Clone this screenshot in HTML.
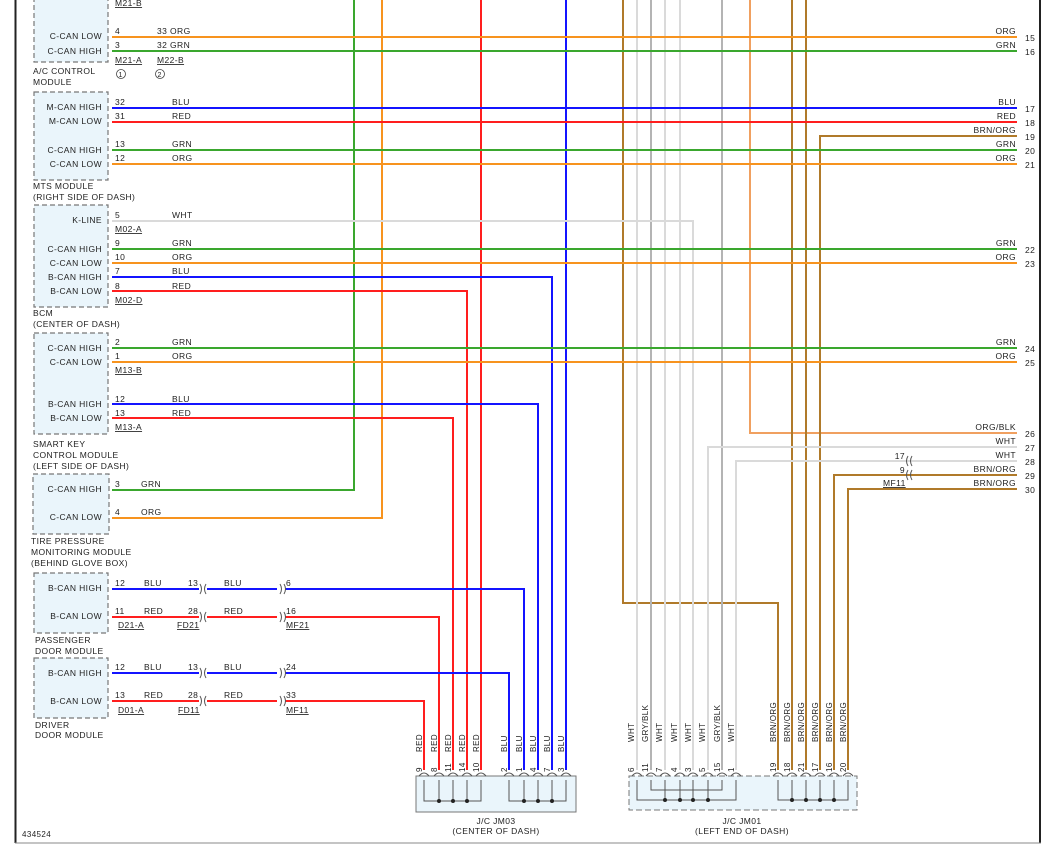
<!DOCTYPE html>
<html><head><meta charset="utf-8"><style>
html,body{margin:0;padding:0;background:#fff;}
svg{display:block;font-family:"Liberation Sans",sans-serif;font-size:8.5px;fill:#222;letter-spacing:0.4px}
.b{fill:#eaf5fb;stroke:#777;stroke-width:1.2;stroke-dasharray:5,3}
.w{fill:none;stroke-width:2}
.o{stroke:#f7931e}.g{stroke:#3aa72e}.u{stroke:#1414ff}.r{stroke:#ff1e1e}.n{stroke:#b07a2a}.t{stroke:#dadada}.y{stroke:#b4b4b4}
.m{text-anchor:end}
.c{fill:none;stroke:#555;stroke-width:1}
</style></head><body>
<svg width="1046" height="851" viewBox="0 0 1046 851">
<line x1="15.5" y1="0" x2="15.5" y2="843" stroke="#222" stroke-width="2"/>
<line x1="1040" y1="0" x2="1040" y2="843" stroke="#222" stroke-width="2"/>
<line x1="15" y1="843" x2="1041" y2="843" stroke="#888" stroke-width="1"/>

<!-- modules -->
<rect class="b" x="34" y="-10" width="74" height="72"/>
<rect class="b" x="34" y="92" width="74" height="88"/>
<rect class="b" x="34" y="205" width="74" height="102"/>
<rect class="b" x="34" y="333" width="74" height="101"/>
<rect class="b" x="33" y="474" width="76" height="60"/>
<rect class="b" x="34" y="573" width="74" height="60"/>
<rect class="b" x="34" y="658" width="74" height="60"/>

<g class="m">
<text x="102" y="39">C-CAN LOW</text><text x="102" y="54">C-CAN HIGH</text>
<text x="102" y="110">M-CAN HIGH</text><text x="102" y="124">M-CAN LOW</text>
<text x="102" y="153">C-CAN HIGH</text><text x="102" y="167">C-CAN LOW</text>
<text x="102" y="223">K-LINE</text>
<text x="102" y="252">C-CAN HIGH</text><text x="102" y="266">C-CAN LOW</text>
<text x="102" y="280">B-CAN HIGH</text><text x="102" y="294">B-CAN LOW</text>
<text x="102" y="351">C-CAN HIGH</text><text x="102" y="365">C-CAN LOW</text>
<text x="102" y="407">B-CAN HIGH</text><text x="102" y="421">B-CAN LOW</text>
<text x="102" y="492">C-CAN HIGH</text><text x="102" y="520">C-CAN LOW</text>
<text x="102" y="591">B-CAN HIGH</text><text x="102" y="619">B-CAN LOW</text>
<text x="102" y="676">B-CAN HIGH</text><text x="102" y="704">B-CAN LOW</text>
</g>
<text x="33" y="74">A/C CONTROL</text><text x="33" y="85">MODULE</text>
<text x="33" y="189">MTS MODULE</text><text x="33" y="200">(RIGHT SIDE OF DASH)</text>
<text x="33" y="316">BCM</text><text x="33" y="327">(CENTER OF DASH)</text>
<text x="33" y="447">SMART KEY</text><text x="33" y="458">CONTROL MODULE</text><text x="33" y="469">(LEFT SIDE OF DASH)</text>
<text x="31" y="544">TIRE PRESSURE</text><text x="31" y="555">MONITORING MODULE</text><text x="31" y="566">(BEHIND GLOVE BOX)</text>
<text x="35" y="643">PASSENGER</text><text x="35" y="654">DOOR MODULE</text>
<text x="35" y="728">DRIVER</text><text x="35" y="738">DOOR MODULE</text>
<text x="22" y="837" style="font-size:8px">434524</text>

<!-- verticals -->
<polyline class="w g" points="112,490 354,490 354,0"/>
<polyline class="w o" points="112,518 382,518 382,0"/>
<polyline class="w r" points="481,0 481,770"/>
<polyline class="w u" points="566,0 566,770"/>
<polyline class="w n" points="623,0 623,603 778,603 778,770"/>
<polyline class="w t" points="637,0 637,770"/>
<polyline class="w y" points="651,0 651,770"/>
<polyline class="w t" points="665,0 665,770"/>
<polyline class="w t" points="680,0 680,770"/>
<polyline class="w y" points="722,0 722,770"/>
<polyline class="w o" points="750,0 750,433 1017,433" style="stroke:#f0a060"/>
<polyline class="w n" points="792,0 792,770"/>
<polyline class="w n" points="806,0 806,770"/>

<!-- horizontals -->
<line class="w o" x1="112" y1="37" x2="1017" y2="37"/>
<line class="w g" x1="112" y1="51" x2="1017" y2="51"/>
<line class="w u" x1="112" y1="108" x2="1017" y2="108"/>
<line class="w r" x1="112" y1="122" x2="1017" y2="122"/>
<polyline class="w n" points="820,770 820,136 1017,136"/>
<line class="w g" x1="112" y1="150" x2="1017" y2="150"/>
<line class="w o" x1="112" y1="164" x2="1017" y2="164"/>
<polyline class="w t" points="112,221 693,221 693,770"/>
<line class="w g" x1="112" y1="249" x2="1017" y2="249"/>
<line class="w o" x1="112" y1="263" x2="1017" y2="263"/>
<polyline class="w u" points="112,277 552,277 552,770"/>
<polyline class="w r" points="112,291 467,291 467,770"/>
<line class="w g" x1="112" y1="348" x2="1017" y2="348"/>
<line class="w o" x1="112" y1="362" x2="1017" y2="362"/>
<polyline class="w u" points="112,404 538,404 538,770"/>
<polyline class="w r" points="112,418 453,418 453,770"/>
<polyline class="w t" points="708,770 708,447 1017,447"/>
<polyline class="w t" points="736,770 736,461 1017,461"/>
<polyline class="w n" points="834,770 834,475 1017,475"/>
<polyline class="w n" points="848,770 848,489 1017,489"/>
<polyline class="w u" points="112,589 524,589 524,770"/>
<polyline class="w r" points="112,617 439,617 439,770"/>
<polyline class="w u" points="112,673 509,673 509,770"/>
<polyline class="w r" points="112,701 424,701 424,770"/>

<!-- inline connector gaps -->
<g fill="#fff"><rect x="199" y="580" width="8" height="44"/><rect x="277" y="580" width="8" height="44"/><rect x="199" y="664" width="8" height="44"/><rect x="277" y="664" width="8" height="44"/></g>
<g class="c">
<path d="M200,584 q3,5 0,10 M206,584 q-3,5 0,10 M280,584 q3,5 0,10 M284,584 q3,5 0,10"/>
<path d="M200,612 q3,5 0,10 M206,612 q-3,5 0,10 M280,612 q3,5 0,10 M284,612 q3,5 0,10"/>
<path d="M200,668 q3,5 0,10 M206,668 q-3,5 0,10 M280,668 q3,5 0,10 M284,668 q3,5 0,10"/>
<path d="M200,696 q3,5 0,10 M206,696 q-3,5 0,10 M280,696 q3,5 0,10 M284,696 q3,5 0,10"/>
<path d="M908,456 q-3,5 0,10 M912,456 q-3,5 0,10 M908,470 q-3,5 0,10 M912,470 q-3,5 0,10"/>
</g>

<!-- wire labels -->
<text x="115" y="34">4</text><text x="157" y="34">33  ORG</text>
<text x="115" y="48">3</text><text x="157" y="48">32  GRN</text>
<text x="115" y="6" text-decoration="underline">M21-B</text>
<text x="115" y="63" text-decoration="underline">M21-A</text><text x="157" y="63" text-decoration="underline">M22-B</text>
<circle cx="121" cy="74" r="4.5" fill="none" stroke="#444" stroke-width="0.8"/><text x="118.5" y="77" style="font-size:7px">1</text>
<circle cx="160" cy="74" r="4.5" fill="none" stroke="#444" stroke-width="0.8"/><text x="157.5" y="77" style="font-size:7px">2</text>
<text x="115" y="105">32</text><text x="172" y="105">BLU</text>
<text x="115" y="119">31</text><text x="172" y="119">RED</text>
<text x="115" y="147">13</text><text x="172" y="147">GRN</text>
<text x="115" y="161">12</text><text x="172" y="161">ORG</text>
<text x="115" y="218">5</text><text x="172" y="218">WHT</text>
<text x="115" y="232" text-decoration="underline">M02-A</text>
<text x="115" y="246">9</text><text x="172" y="246">GRN</text>
<text x="115" y="260">10</text><text x="172" y="260">ORG</text>
<text x="115" y="274">7</text><text x="172" y="274">BLU</text>
<text x="115" y="289">8</text><text x="172" y="289">RED</text>
<text x="115" y="303" text-decoration="underline">M02-D</text>
<text x="115" y="345">2</text><text x="172" y="345">GRN</text>
<text x="115" y="359">1</text><text x="172" y="359">ORG</text>
<text x="115" y="373" text-decoration="underline">M13-B</text>
<text x="115" y="402">12</text><text x="172" y="402">BLU</text>
<text x="115" y="416">13</text><text x="172" y="416">RED</text>
<text x="115" y="430" text-decoration="underline">M13-A</text>
<text x="115" y="487">3</text><text x="141" y="487">GRN</text>
<text x="115" y="515">4</text><text x="141" y="515">ORG</text>
<text x="115" y="586">12</text><text x="144" y="586">BLU</text><text x="188" y="586">13</text><text x="224" y="586">BLU</text><text x="286" y="586">6</text>
<text x="115" y="614">11</text><text x="144" y="614">RED</text><text x="188" y="614">28</text><text x="224" y="614">RED</text><text x="286" y="614">16</text>
<text x="118" y="628" text-decoration="underline">D21-A</text><text x="177" y="628" text-decoration="underline">FD21</text><text x="286" y="628" text-decoration="underline">MF21</text>
<text x="115" y="670">12</text><text x="144" y="670">BLU</text><text x="188" y="670">13</text><text x="224" y="670">BLU</text><text x="286" y="670">24</text>
<text x="115" y="698">13</text><text x="144" y="698">RED</text><text x="188" y="698">28</text><text x="224" y="698">RED</text><text x="286" y="698">33</text>
<text x="118" y="713" text-decoration="underline">D01-A</text><text x="178" y="713" text-decoration="underline">FD11</text><text x="286" y="713" text-decoration="underline">MF11</text>

<g class="m">
<text x="1016" y="34">ORG</text><text x="1016" y="48">GRN</text>
<text x="1016" y="105">BLU</text><text x="1016" y="119">RED</text><text x="1016" y="133">BRN/ORG</text><text x="1016" y="147">GRN</text><text x="1016" y="161">ORG</text>
<text x="1016" y="246">GRN</text><text x="1016" y="260">ORG</text>
<text x="1016" y="345">GRN</text><text x="1016" y="359">ORG</text>
<text x="1016" y="430">ORG/BLK</text><text x="1016" y="444">WHT</text><text x="1016" y="458">WHT</text><text x="1016" y="472">BRN/ORG</text><text x="1016" y="486">BRN/ORG</text>
<text x="905" y="459">17</text><text x="905" y="473">9</text>
</g>
<text x="883" y="486" text-decoration="underline">MF11</text>
<g>
<text x="1025" y="41">15</text><text x="1025" y="55">16</text><text x="1025" y="112">17</text><text x="1025" y="126">18</text><text x="1025" y="140">19</text><text x="1025" y="154">20</text><text x="1025" y="168">21</text>
<text x="1025" y="253">22</text><text x="1025" y="267">23</text><text x="1025" y="352">24</text><text x="1025" y="366">25</text>
<text x="1025" y="437">26</text><text x="1025" y="451">27</text><text x="1025" y="465">28</text><text x="1025" y="479">29</text><text x="1025" y="493">30</text>
</g>

<!-- JM03 -->
<rect x="416" y="776" width="160" height="36" fill="#eaf5fb" stroke="#777" stroke-width="1"/>
<g fill="none" stroke="#555" stroke-width="1">
<polyline points="424,780 424,801 481,801 481,780"/><line x1="439" y1="780" x2="439" y2="801"/><line x1="453" y1="780" x2="453" y2="801"/><line x1="467" y1="780" x2="467" y2="801"/>
<polyline points="509,780 509,801 566,801 566,780"/><line x1="524" y1="780" x2="524" y2="801"/><line x1="538" y1="780" x2="538" y2="801"/><line x1="552" y1="780" x2="552" y2="801"/>
<path d="M419,776 q5,-6 10,0 M434,776 q5,-6 10,0 M448,776 q5,-6 10,0 M462,776 q5,-6 10,0 M476,776 q5,-6 10,0 M504,776 q5,-6 10,0 M519,776 q5,-6 10,0 M533,776 q5,-6 10,0 M547,776 q5,-6 10,0 M561,776 q5,-6 10,0"/>
</g>
<g fill="#222"><circle cx="439" cy="801" r="2"/><circle cx="453" cy="801" r="2"/><circle cx="467" cy="801" r="2"/><circle cx="524" cy="801" r="2"/><circle cx="538" cy="801" r="2"/><circle cx="552" cy="801" r="2"/></g>
<text x="496" y="824" text-anchor="middle">J/C JM03</text><text x="496" y="834" text-anchor="middle">(CENTER OF DASH)</text>

<!-- JM01 -->
<rect x="629" y="776" width="228" height="34" fill="#eaf5fb" stroke="#777" stroke-width="1" stroke-dasharray="6,3"/>
<g fill="none" stroke="#555" stroke-width="1">
<polyline points="637,780 637,800 736,800 736,780"/><polyline points="651,780 651,790 722,790 722,780"/>
<line x1="665" y1="780" x2="665" y2="800"/><line x1="680" y1="780" x2="680" y2="800"/><line x1="693" y1="780" x2="693" y2="800"/><line x1="708" y1="780" x2="708" y2="800"/>
<polyline points="778,780 778,800 848,800 848,780"/><line x1="792" y1="780" x2="792" y2="800"/><line x1="806" y1="780" x2="806" y2="800"/><line x1="820" y1="780" x2="820" y2="800"/><line x1="834" y1="780" x2="834" y2="800"/>
<path d="M632,776 q5,-6 10,0 M646,776 q5,-6 10,0 M660,776 q5,-6 10,0 M675,776 q5,-6 10,0 M688,776 q5,-6 10,0 M703,776 q5,-6 10,0 M717,776 q5,-6 10,0 M731,776 q5,-6 10,0 M773,776 q5,-6 10,0 M787,776 q5,-6 10,0 M801,776 q5,-6 10,0 M815,776 q5,-6 10,0 M829,776 q5,-6 10,0 M843,776 q5,-6 10,0"/>
</g>
<g fill="#222"><circle cx="665" cy="800" r="2"/><circle cx="680" cy="800" r="2"/><circle cx="693" cy="800" r="2"/><circle cx="708" cy="800" r="2"/><circle cx="792" cy="800" r="2"/><circle cx="806" cy="800" r="2"/><circle cx="820" cy="800" r="2"/><circle cx="834" cy="800" r="2"/></g>
<text x="742" y="824" text-anchor="middle">J/C JM01</text><text x="742" y="834" text-anchor="middle">(LEFT END OF DASH)</text>

<!-- vertical labels -->
<g style="font-size:8px">
<text transform="translate(422,752) rotate(-90)">RED</text><text transform="translate(437,752) rotate(-90)">RED</text><text transform="translate(451,752) rotate(-90)">RED</text><text transform="translate(465,752) rotate(-90)">RED</text><text transform="translate(479,752) rotate(-90)">RED</text>
<text transform="translate(507,752) rotate(-90)">BLU</text><text transform="translate(522,752) rotate(-90)">BLU</text><text transform="translate(536,752) rotate(-90)">BLU</text><text transform="translate(550,752) rotate(-90)">BLU</text><text transform="translate(564,752) rotate(-90)">BLU</text>
<text transform="translate(422,772) rotate(-90)">9</text><text transform="translate(437,772) rotate(-90)">8</text><text transform="translate(451,772) rotate(-90)">11</text><text transform="translate(465,772) rotate(-90)">14</text><text transform="translate(479,772) rotate(-90)">10</text>
<text transform="translate(507,772) rotate(-90)">2</text><text transform="translate(522,772) rotate(-90)">1</text><text transform="translate(536,772) rotate(-90)">4</text><text transform="translate(550,772) rotate(-90)">7</text><text transform="translate(564,772) rotate(-90)">3</text>
<text transform="translate(634,742) rotate(-90)">WHT</text><text transform="translate(648,742) rotate(-90)">GRY/BLK</text><text transform="translate(662,742) rotate(-90)">WHT</text><text transform="translate(677,742) rotate(-90)">WHT</text><text transform="translate(691,742) rotate(-90)">WHT</text><text transform="translate(705,742) rotate(-90)">WHT</text><text transform="translate(720,742) rotate(-90)">GRY/BLK</text><text transform="translate(734,742) rotate(-90)">WHT</text>
<text transform="translate(776,742) rotate(-90)">BRN/ORG</text><text transform="translate(790,742) rotate(-90)">BRN/ORG</text><text transform="translate(804,742) rotate(-90)">BRN/ORG</text><text transform="translate(818,742) rotate(-90)">BRN/ORG</text><text transform="translate(832,742) rotate(-90)">BRN/ORG</text><text transform="translate(846,742) rotate(-90)">BRN/ORG</text>
<text transform="translate(634,772) rotate(-90)">6</text><text transform="translate(648,772) rotate(-90)">11</text><text transform="translate(662,772) rotate(-90)">7</text><text transform="translate(677,772) rotate(-90)">4</text><text transform="translate(691,772) rotate(-90)">3</text><text transform="translate(705,772) rotate(-90)">5</text><text transform="translate(720,772) rotate(-90)">15</text><text transform="translate(734,772) rotate(-90)">1</text>
<text transform="translate(776,772) rotate(-90)">19</text><text transform="translate(790,772) rotate(-90)">18</text><text transform="translate(804,772) rotate(-90)">21</text><text transform="translate(818,772) rotate(-90)">17</text><text transform="translate(832,772) rotate(-90)">16</text><text transform="translate(846,772) rotate(-90)">20</text>
</g>
</svg>
</body></html>
